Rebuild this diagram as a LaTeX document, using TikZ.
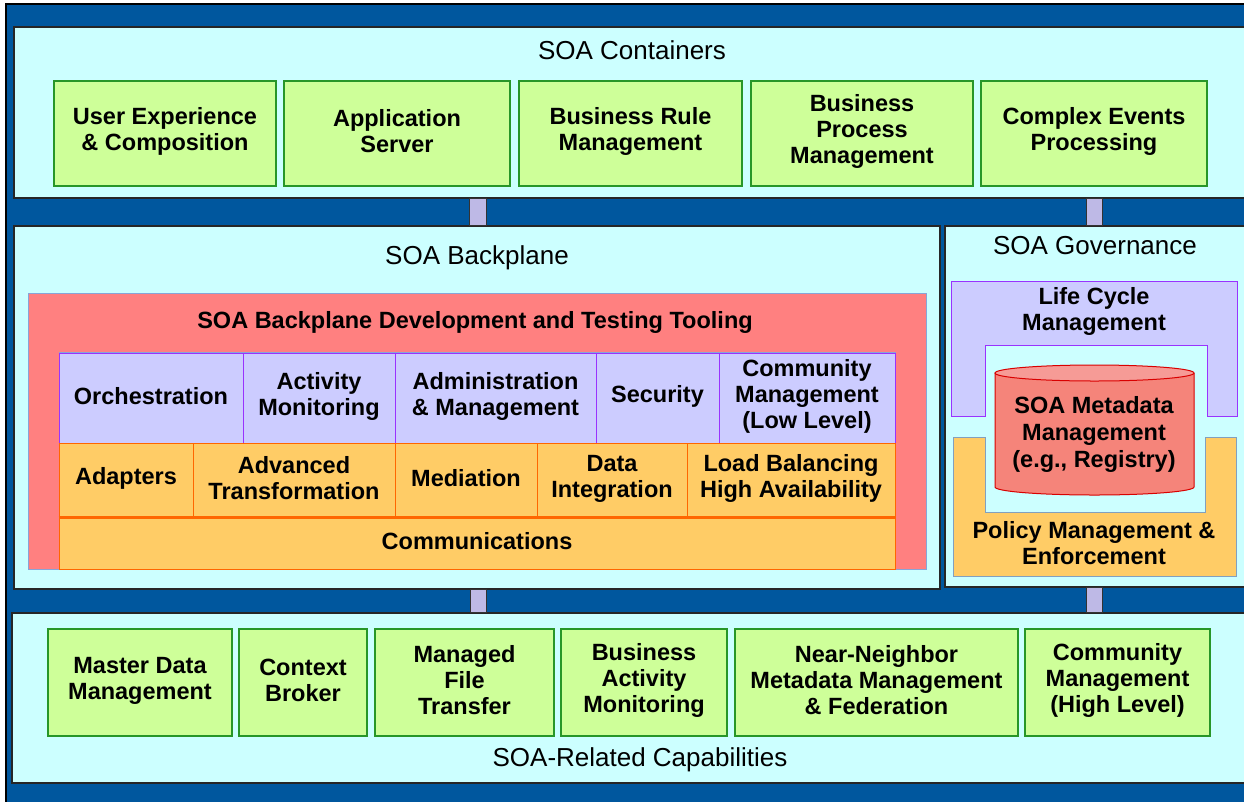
\documentclass[tikz,border=0pt]{standalone}
\usepackage{fontspec}
\newfontfamily\soafont{Liberation Sans}
\usetikzlibrary{positioning,fit}
\definecolor{soaBlue}{RGB}{0,87,158}
\definecolor{soaCyan}{RGB}{204,255,255}
\definecolor{capFill}{RGB}{206,255,153}
\definecolor{capLine}{RGB}{40,150,40}
\definecolor{toolPink}{RGB}{255,128,128}
\definecolor{paleBlue}{RGB}{135,165,215}
\definecolor{lilac}{RGB}{204,204,255}
\definecolor{violet}{RGB}{153,51,255}
\definecolor{amber}{RGB}{255,204,102}
\definecolor{deepOrange}{RGB}{255,102,0}
\definecolor{policyLine}{RGB}{130,160,190}
\definecolor{metaBody}{RGB}{245,132,122}
\definecolor{metaTop}{RGB}{246,155,150}
\definecolor{barFill}{RGB}{190,185,230}
\newcommand\boxfont{\soafont\bfseries\fontsize{23.5}{26}\selectfont}
\newcommand\titlefont{\soafont\fontsize{26}{30}\selectfont}
\tikzset{
    panel/.style={draw=black!85, line width=1.4pt, fill=soaCyan, inner sep=0pt},
    capbox/.style={draw=capLine, line width=1.2pt, fill=capFill, inner sep=0pt},
    svcbox/.style={draw=violet, line width=1pt, fill=lilac, inner sep=0pt},
    medbox/.style={draw=deepOrange, line width=1pt, fill=amber, inner sep=0pt},
    bar/.style={draw=black!80, line width=1pt, fill=barFill},
    title/.style={font=\titlefont, inner sep=0pt},
    label/.style={font=\boxfont, align=center, inner sep=0pt}
}
\begin{document}
\begin{tikzpicture}[x=1pt,y=-1pt]
    \useasboundingbox (0,0) rectangle (1244,801);
    \clip (0,0) rectangle (1244,801);
    % background
    \draw[black, line width=1.5pt, fill=soaBlue] (6,4) rectangle (1270,830);
    % panels
    \node[panel, fit={(14,27) (1260,198)}] (cont) {};
    \node[panel, fit={(14,226) (940,589)}] (back) {};
    \node[panel, fit={(945,226) (1260,587)}] (gov) {};
    \node[panel, fit={(12,613) (1260,783)}] (rel) {};
    \node[title] (contT) at (632,50) {SOA Containers};
    \node[title] (backT) at (477,258) {SOA Backplane};
    \node[title] (govT) at (1095,246) {SOA Governance};
    \node[title] (relT) at (640,760) {SOA-Related Capabilities};
    % links between panels
    \draw[bar] (469,0 |- cont.south) rectangle (486,0 |- back.north);
    \draw[bar] (1086,0 |- cont.south) rectangle (1102,0 |- gov.north);
    \draw[bar] (470,0 |- back.south) rectangle (486,0 |- rel.north);
    \draw[bar] (1086,0 |- gov.south) rectangle (1102,0 |- rel.north);
    % containers
    \foreach \nm/\xa/\xb/\txt in {ux/54/276/{User Experience\\\& Composition},
        appsrv/284/510/{Application\\Server}, brm/519/742/{Business Rule\\Management},
        bpm/751/973/{Business\\Process\\Management}, cep/981/1207/{Complex Events\\Processing}}
    {
        \node[capbox, fit={(\xa,81) (\xb,186)}] (\nm) {};
        \node[label] (\nm T) at ([yshift=2pt]\nm.center) {\txt};
    }
    % backplane
    \node[draw=paleBlue, line width=1pt, fill=toolPink, inner sep=0pt, fit={(28,293) (926,569)}] (tool) {};
    \node[label] (toolT) at (475,322) {SOA Backplane Development and Testing Tooling};
    \foreach \nm/\xa/\xb/\txt in {orch/59/243/{Orchestration}, actmon/243/395/{Activity\\Monitoring},
        admin/395/596/{Administration\\\& Management}, secur/596/719/{Security},
        commlow/719/895/{Community\\Management\\(Low Level)}}
    {
        \node[svcbox, fit={(\xa,353) (\xb,443)}] (\nm) {};
        \node[label] (\nm T) at ([yshift=2pt]\nm.center) {\txt};
    }
    \foreach \nm/\xa/\xb/\txt in {adapt/59/193/{Adapters}, advtr/193/395/{Advanced\\Transformation},
        medi/395/537/{Mediation}, datint/537/687/{Data\\Integration},
        loadbal/687/895/{Load Balancing\\High Availability}}
    {
        \node[medbox, fit={(\xa,443) (\xb,518)}] (\nm) {};
        \node[label] (\nm T) at ([yshift=2pt]\nm.center) {\txt};
    }
    \node[medbox, fit={(59,518) (895,569)}] (comm) {};
    \node[label] (commT) at ([yshift=2pt]comm.center) {Communications};
    \draw[deepOrange, line width=3pt] (comm.north west) -- (comm.north east);
    \draw[paleBlue, line width=1pt] (orch.north west) -- (commlow.north east);
    % governance
    \draw[violet, line width=1pt, fill=lilac] (951,281) -- (1237,281) -- (1237,416) -- (1207,416)
        -- (1207,345) -- (985,345) -- (985,416) -- (951,416) -- cycle;
    \node[label] (life) at (1094,311) {Life Cycle\\Management};
    \draw[policyLine, line width=1pt, fill=amber] (953,437) -- (985,437) -- (985,512) -- (1205,512)
        -- (1205,437) -- (1236,437) -- (1236,576) -- (953,576) -- cycle;
    \node[label] (policy) at (1094,543) {Policy Management \&\\Enforcement};
    \draw[red!85!black, line width=1pt, fill=metaBody] (995,373) -- (995,487)
        arc[start angle=180, end angle=360, x radius=99.5pt, y radius=8pt] -- (1194,373);
    \draw[red!85!black, line width=1pt, fill=metaTop] (1094.5,373) ellipse [x radius=99.5pt, y radius=8pt];
    \node[label, font=\soafont\bfseries\fontsize{23.5}{27}\selectfont] (meta) at (1094,434) {SOA Metadata\\Management\\(e.g., Registry)};
    % related capabilities
    \foreach \nm/\xa/\xb/\txt in {mdm/48/232/{Master Data\\Management}, ctx/239/367/{Context\\Broker},
        mft/375/554/{Managed\\File\\Transfer}, bam/561/727/{Business\\Activity\\Monitoring},
        nnmm/735/1018/{Near-Neighbor\\Metadata Management\\\& Federation},
        commhigh/1025/1210/{Community\\Management\\(High Level)}}
    {
        \node[capbox, fit={(\xa,629) (\xb,736)}] (\nm) {};
        \node[label] (\nm T) at ([yshift=2pt]\nm.center) {\txt};
    }
\end{tikzpicture}
\end{document}
